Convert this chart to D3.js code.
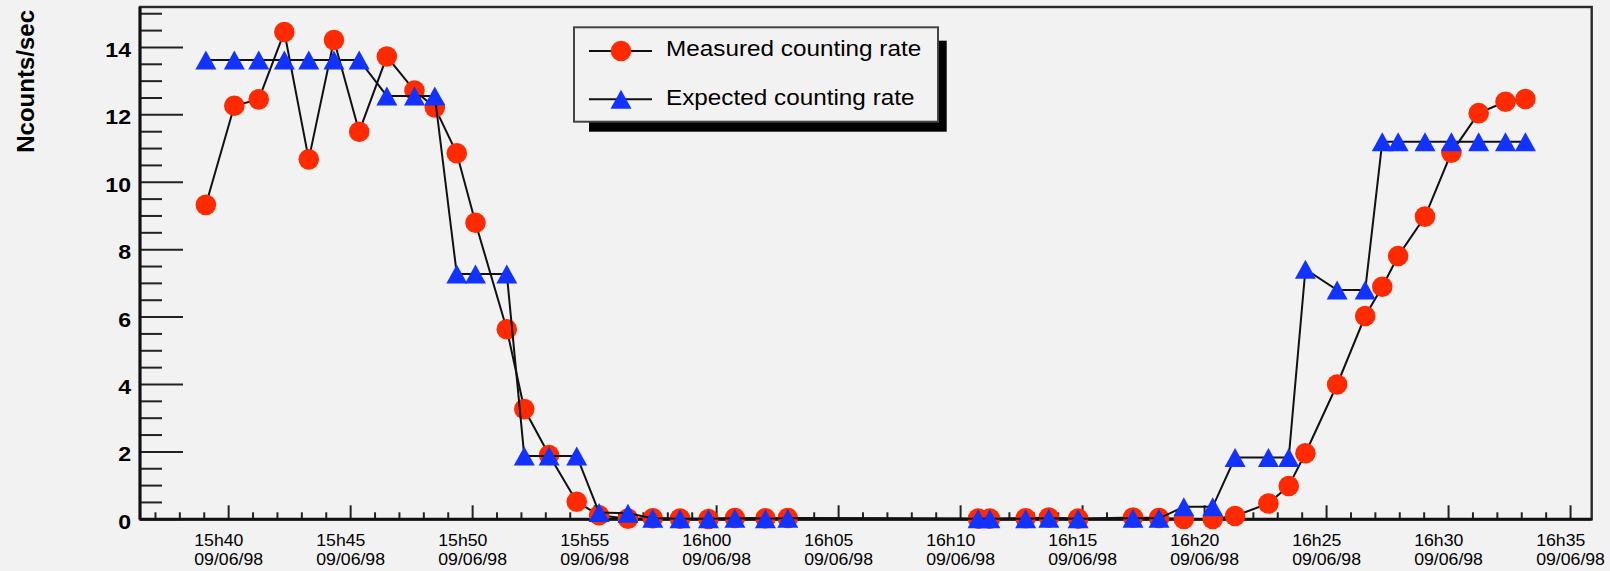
<!DOCTYPE html>
<html>
<head>
<meta charset="utf-8">
<script src="https://cdn.jsdelivr.net/npm/d3@7"></script>
<style>
  html, body { margin: 0; padding: 0; background: #f2f2f2; }
  svg { display: block; }
  text { font-family: "Liberation Sans", Arial, Helvetica, sans-serif; fill: #000; }
</style>
</head>
<body>
<svg id="chart" width="1610" height="571"></svg>
<script>
// Sampling times on 9 June 1998 (hh:mm:ss)
const sampleTimes = [
  "15:39:04", "15:40:14", "15:41:14", "15:42:17", "15:43:17", "15:44:19", "15:45:21",
  "15:46:29", "15:47:37", "15:48:27", "15:49:21", "15:50:07", "15:51:24", "15:52:07",
  "15:53:08", "15:54:16", "15:55:11", "15:56:22", "15:57:23", "15:58:30", "15:59:40",
  "16:00:45", "16:02:00", "16:02:55", "16:10:43", "16:11:12", "16:12:40", "16:13:37",
  "16:14:49", "16:17:04", "16:18:08", "16:19:09", "16:20:20", "16:21:15", "16:22:37",
  "16:23:27", "16:24:08", "16:25:26", "16:26:35", "16:27:17", "16:27:56", "16:29:02",
  "16:30:07", "16:31:14", "16:32:20", "16:33:09"
];

// Measured counting rate (Ncounts/sec)
const measuredRate = [
  9.33, 12.27, 12.46, 14.46, 10.68, 14.22, 11.50,
  13.73, 12.72, 12.22, 10.86, 8.80, 5.64, 3.27,
  1.91, 0.52, 0.12, 0.02, 0.03, 0.02, 0.01,
  0.04, 0.03, 0.04, 0.02, 0.02, 0.03, 0.05,
  0.02, 0.05, 0.04, 0.01, 0.01, 0.10, 0.47,
  0.99, 1.96, 4.00, 6.03, 6.90, 7.81, 8.98,
  10.88, 12.05, 12.39, 12.47
];

// Expected counting rate (Ncounts/sec)
const expectedRate = [
  13.63, 13.63, 13.63, 13.63, 13.63, 13.63, 13.63,
  12.56, 12.56, 12.56, 7.28, 7.28, 7.28, 1.88,
  1.88, 1.88, 0.20, 0.18, 0.03, 0.02, 0.02,
  0.03, 0.02, 0.03, 0.02, 0.02, 0.02, 0.03,
  0.02, 0.03, 0.03, 0.37, 0.37, 1.83, 1.83,
  1.83, 7.42, 6.80, 6.80, 11.20, 11.20, 11.20,
  11.20, 11.20, 11.20, 11.20
];

const seriesNames = ["Measured counting rate", "Expected counting rate"];
const yTickValues = [0, 2, 4, 6, 8, 10, 12, 14];
const yAxisTitle = "Ncounts/sec";
const runDay = "1998-06-09";
const xRange = ["15:36:22", "16:35:52"];
const yRange = [0, 15.2];

// ---------------------------------------------------------------
const W = 1610, H = 571;
const frame = { left: 140, right: 1591.7, top: 7, bottom: 519.3 };

const parseTime = d3.timeParse("%Y-%m-%d %H:%M:%S");
const toDate = s => parseTime(runDay + " " + s);

const points = sampleTimes.map((t, i) => ({
  date: toDate(t), measured: measuredRate[i], expected: expectedRate[i]
}));

const x = d3.scaleTime()
  .domain(xRange.map(toDate))
  .range([frame.left, frame.right]);
const y = d3.scaleLinear()
  .domain(yRange)
  .range([frame.bottom, frame.top]);

const svg = d3.select("#chart");
const bg = "#f2f2f2";
const red = "#ff2a00";
const blue = "#1233ff";

svg.append("rect").attr("width", W).attr("height", H).attr("fill", bg);

// Stretched text helper (glyphs slightly widened horizontally)
function label(g, str, px, py, opt) {
  const o = Object.assign({ size: 17, sx: 1, anchor: "start", weight: "normal", rotate: 0 }, opt);
  const t = g.append("text")
    .attr("transform", `translate(${px},${py}) rotate(${o.rotate}) scale(${o.sx},1)`)
    .attr("text-anchor", o.anchor)
    .attr("font-size", o.size)
    .attr("font-weight", o.weight)
    .text(str);
  return t;
}

// Frame
svg.append("rect")
  .attr("x", frame.left).attr("y", frame.top)
  .attr("width", frame.right - frame.left).attr("height", frame.bottom - frame.top)
  .attr("fill", bg).attr("stroke", "#2a2a2a").attr("stroke-width", 2.4);

// ---- Y axis: ticks point inward from the left edge
const yAxisG = svg.append("g");
const yMinor = d3.range(0, 15.01, 0.5).filter(v => !yTickValues.includes(v));
yAxisG.selectAll("line.minor").data(yMinor).join("line")
  .attr("x1", frame.left).attr("x2", frame.left + 22)
  .attr("y1", d => y(d)).attr("y2", d => y(d))
  .attr("stroke", "#222").attr("stroke-width", 2);
yAxisG.selectAll("line.major").data(yTickValues).join("line")
  .attr("x1", frame.left).attr("x2", frame.left + 43)
  .attr("y1", d => y(d)).attr("y2", d => y(d))
  .attr("stroke", "#222").attr("stroke-width", 2);
yTickValues.forEach(v => {
  label(yAxisG, d3.format("d")(v), 131, y(v) + 9.5,
    { size: 21, sx: 1.1, anchor: "end", weight: "bold" });
});
svg.append("line")
  .attr("x1", frame.left).attr("x2", frame.left)
  .attr("y1", frame.top).attr("y2", frame.bottom)
  .attr("stroke", "#111").attr("stroke-width", 3);

// Y title
label(svg, yAxisTitle, 33.5, 10,
  { size: 24, anchor: "end", weight: "bold", rotate: -90 });

// ---- X axis: time ticks pointing up from the bottom edge
const xAxisG = svg.append("g");
const xMajor = x.ticks(d3.timeMinute.every(5));
const xMinorAll = x.ticks(d3.timeMinute.every(1));
const xMinor = xMinorAll.filter(d => d.getMinutes() % 5 !== 0);
xAxisG.selectAll("line.minor").data(xMinor).join("line")
  .attr("x1", d => x(d)).attr("x2", d => x(d))
  .attr("y1", frame.bottom).attr("y2", frame.bottom - 7)
  .attr("stroke", "#222").attr("stroke-width", 2);
xAxisG.selectAll("line.major").data(xMajor).join("line")
  .attr("x1", d => x(d)).attr("x2", d => x(d))
  .attr("y1", frame.bottom).attr("y2", frame.bottom - 14)
  .attr("stroke", "#222").attr("stroke-width", 2);
svg.append("line")
  .attr("x1", frame.left).attr("x2", frame.right)
  .attr("y1", frame.bottom).attr("y2", frame.bottom)
  .attr("stroke", "#111").attr("stroke-width", 3);

const fmtTime = d3.timeFormat("%Hh%M");
const fmtDay = d3.timeFormat("%d/%m/%y");
const xSx = 1.04;
xMajor.forEach(d => {
  const cx = x(d);
  const dayT = label(xAxisG, fmtDay(d), 0, frame.bottom + 45.7, { size: 17, sx: xSx });
  const w = dayT.node().getComputedTextLength() * xSx;
  const left = cx - w / 2;
  dayT.attr("transform", `translate(${left},${frame.bottom + 45.7}) scale(${xSx},1)`);
  label(xAxisG, fmtTime(d), left, frame.bottom + 26.7, { size: 17, sx: xSx });
});

// ---- Series
const lineMeasured = d3.line().x(d => x(d.date)).y(d => y(d.measured));
const lineExpected = d3.line().x(d => x(d.date)).y(d => y(d.expected));

const triPath = (w, h) => `M0,${-h / 2}L${w / 2},${h / 2}L${-w / 2},${h / 2}Z`;

svg.append("path").datum(points)
  .attr("d", lineMeasured).attr("fill", "none")
  .attr("stroke", "#111").attr("stroke-width", 2);
svg.append("g").selectAll("circle").data(points).join("circle")
  .attr("cx", d => x(d.date)).attr("cy", d => y(d.measured))
  .attr("r", 10.3).attr("fill", red);

svg.append("path").datum(points)
  .attr("d", lineExpected).attr("fill", "none")
  .attr("stroke", "#111").attr("stroke-width", 2);
svg.append("g").selectAll("path").data(points).join("path")
  .attr("transform", d => `translate(${x(d.date)},${y(d.expected)})`)
  .attr("d", triPath(21, 19)).attr("fill", blue);

// ---- Legend with drop shadow
const leg = svg.append("g");
const box = { x: 574, y: 27.3, w: 364, h: 94.4 };
leg.append("rect")
  .attr("x", 589).attr("y", 40.7).attr("width", 946.7 - 589).attr("height", 131.7 - 40.7)
  .attr("fill", "#000");
leg.append("rect")
  .attr("x", box.x).attr("y", box.y).attr("width", box.w).attr("height", box.h)
  .attr("fill", bg).attr("stroke", "#444").attr("stroke-width", 2);

const entryY = [51, 99.3];
seriesNames.forEach((name, i) => {
  const ly = entryY[i];
  leg.append("line")
    .attr("x1", 589).attr("x2", 652).attr("y1", ly).attr("y2", ly)
    .attr("stroke", "#111").attr("stroke-width", 2);
  if (i === 0) {
    leg.append("circle").attr("cx", 621).attr("cy", ly).attr("r", 10.3).attr("fill", red);
  } else {
    leg.append("path").attr("transform", `translate(621,${ly})`)
      .attr("d", triPath(21, 19)).attr("fill", blue);
  }
  label(leg, name, 666, ly + 5.2, { size: 21.5, sx: 1.13 });
});
</script>
</body>
</html>
